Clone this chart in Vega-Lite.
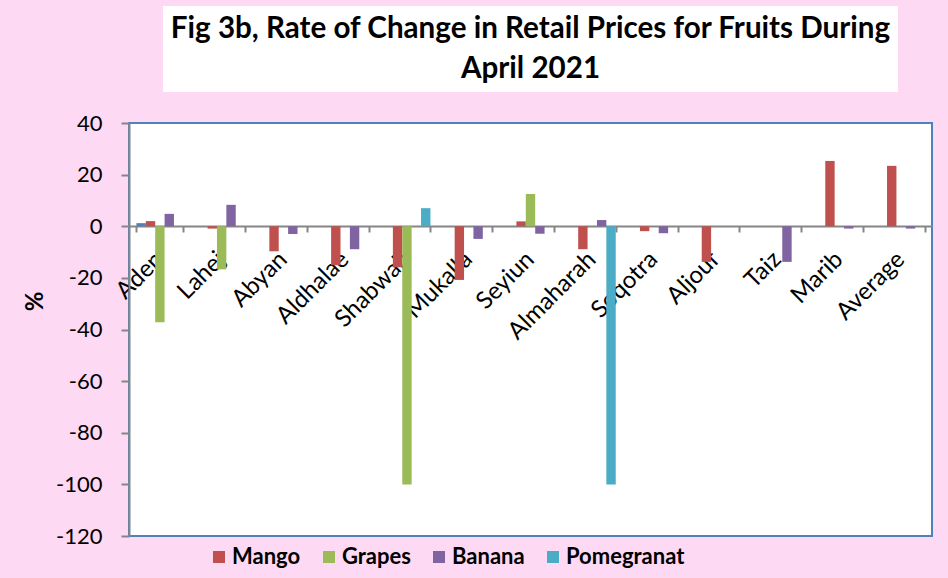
{
  "$schema": "https://vega.github.io/schema/vega-lite/v6.json",
  "background": "#FDD9F4",
  "padding": {"left": 22, "top": 6, "right": 30, "bottom": 30},
  "bounds": "flush",
  "center": true,
  "spacing": 31,
  "config": {"font": "Lato", "view": {"stroke": null}},
  "vconcat": [
    {
      "width": 735,
      "height": 86,
      "view": {"fill": "white", "stroke": null},
      "data": {"values": [
        {"line": 1, "text": "Fig 3b, Rate of Change in Retail Prices for Fruits During"},
        {"line": 2, "text": "April 2021"}
      ]},
      "mark": {"type": "text", "font": "Lato", "fontSize": 29.6, "fontWeight": "bold", "color": "black", "baseline": "middle"},
      "encoding": {
        "y": {"field": "line", "type": "ordinal", "axis": null, "scale": {"type": "point", "padding": 0.6}},
        "text": {"field": "text"}
      }
    },
    {
      "width": 803,
      "height": 413,
      "view": {"fill": "white", "stroke": "#4F81BD", "strokeWidth": 2},
      "data": {"values": [
        {"region": "Aden", "fruit": "Unnamed", "change": 1.2},
        {"region": "Aden", "fruit": "Mango", "change": 2.0},
        {"region": "Aden", "fruit": "Grapes", "change": -37.2},
        {"region": "Aden", "fruit": "Banana", "change": 4.8},
        {"region": "Lahej", "fruit": "Mango", "change": -0.9},
        {"region": "Lahej", "fruit": "Grapes", "change": -16.7},
        {"region": "Lahej", "fruit": "Banana", "change": 8.3},
        {"region": "Abyan", "fruit": "Mango", "change": -9.7},
        {"region": "Abyan", "fruit": "Banana", "change": -3.0},
        {"region": "Aldhalae", "fruit": "Mango", "change": -15.1},
        {"region": "Aldhalae", "fruit": "Banana", "change": -8.9},
        {"region": "Shabwah", "fruit": "Mango", "change": -15.9},
        {"region": "Shabwah", "fruit": "Grapes", "change": -100},
        {"region": "Shabwah", "fruit": "Pomegranat", "change": 7.0},
        {"region": "Mukalla", "fruit": "Mango", "change": -20.8},
        {"region": "Mukalla", "fruit": "Banana", "change": -4.9},
        {"region": "Seyiun", "fruit": "Mango", "change": 1.9},
        {"region": "Seyiun", "fruit": "Grapes", "change": 12.5},
        {"region": "Seyiun", "fruit": "Banana", "change": -2.9},
        {"region": "Almaharah", "fruit": "Mango", "change": -8.9},
        {"region": "Almaharah", "fruit": "Banana", "change": 2.4},
        {"region": "Almaharah", "fruit": "Pomegranat", "change": -100},
        {"region": "Soqotra", "fruit": "Mango", "change": -1.9},
        {"region": "Soqotra", "fruit": "Banana", "change": -2.7},
        {"region": "Aljouf", "fruit": "Mango", "change": -13.8},
        {"region": "Taiz", "fruit": "Banana", "change": -13.8},
        {"region": "Marib", "fruit": "Mango", "change": 25.3},
        {"region": "Marib", "fruit": "Banana", "change": -0.9},
        {"region": "Average", "fruit": "Mango", "change": 23.4},
        {"region": "Average", "fruit": "Banana", "change": -0.9}
      ]},
      "mark": {"type": "bar"},
      "encoding": {
        "x": {
          "field": "region",
          "type": "nominal",
          "sort": ["Aden", "Lahej", "Abyan", "Aldhalae", "Shabwah", "Mukalla", "Seyiun", "Almaharah", "Soqotra", "Aljouf", "Taiz", "Marib", "Average"],
          "scale": {"paddingInner": 0.24, "paddingOuter": 0.12},
          "axis": {
            "title": null,
            "offset": -310,
            "labelAngle": -45,
            "labelAlign": "right",
            "labelBaseline": "top",
            "labelFontSize": 24,
            "labelColor": "black",
            "labelPadding": 15,
            "labelOffset": -9,
            "labelOverlap": false,
            "labelLimit": 0,
            "tickBand": "extent",
            "tickSize": 6,
            "tickWidth": 2,
            "tickColor": "#868686",
            "domainColor": "#868686",
            "domainWidth": 2
          }
        },
        "xOffset": {
          "field": "fruit",
          "type": "nominal",
          "sort": ["Unnamed", "Mango", "Grapes", "Banana", "Pomegranat"],
          "scale": {"domain": ["Unnamed", "Mango", "Grapes", "Banana", "Pomegranat"], "paddingInner": 0, "paddingOuter": 0}
        },
        "y": {
          "field": "change",
          "type": "quantitative",
          "scale": {"domain": [-120, 40], "nice": false, "zero": false},
          "axis": {
            "values": [-120, -100, -80, -60, -40, -20, 0, 20, 40],
            "labelExpr": "'' + datum.value",
            "grid": false,
            "title": "%",
            "titleFontSize": 24,
            "titleFontWeight": "bold",
            "titleColor": "black",
            "titleX": -94,
            "titleY": 178,
            "titleAlign": "center",
            "titleBaseline": "middle",
            "titleAngle": -90,
            "labelFontSize": 22,
            "labelColor": "black",
            "labelPadding": 19,
            "tickSize": 8,
            "tickWidth": 2,
            "tickColor": "#868686",
            "domainColor": "#868686",
            "domainWidth": 2
          }
        },
        "color": {
          "field": "fruit",
          "type": "nominal",
          "scale": {
            "domain": ["Unnamed", "Mango", "Grapes", "Banana", "Pomegranat"],
            "range": ["#4F81BD", "#C0504D", "#9BBB59", "#8064A2", "#4BACC6"]
          },
          "legend": {
            "values": ["Mango", "Grapes", "Banana", "Pomegranat"],
            "title": null,
            "orient": "none",
            "legendX": 79,
            "legendY": 540,
            "direction": "horizontal",
            "symbolType": "square",
            "symbolSize": 144,
            "symbolStrokeWidth": 0,
            "symbolOpacity": 1,
            "labelFontSize": 22,
            "labelFontWeight": "bold",
            "labelColor": "black",
            "labelOffset": 2,
            "columnPadding": 17,
            "padding": 0
          }
        }
      }
    }
  ]
}
